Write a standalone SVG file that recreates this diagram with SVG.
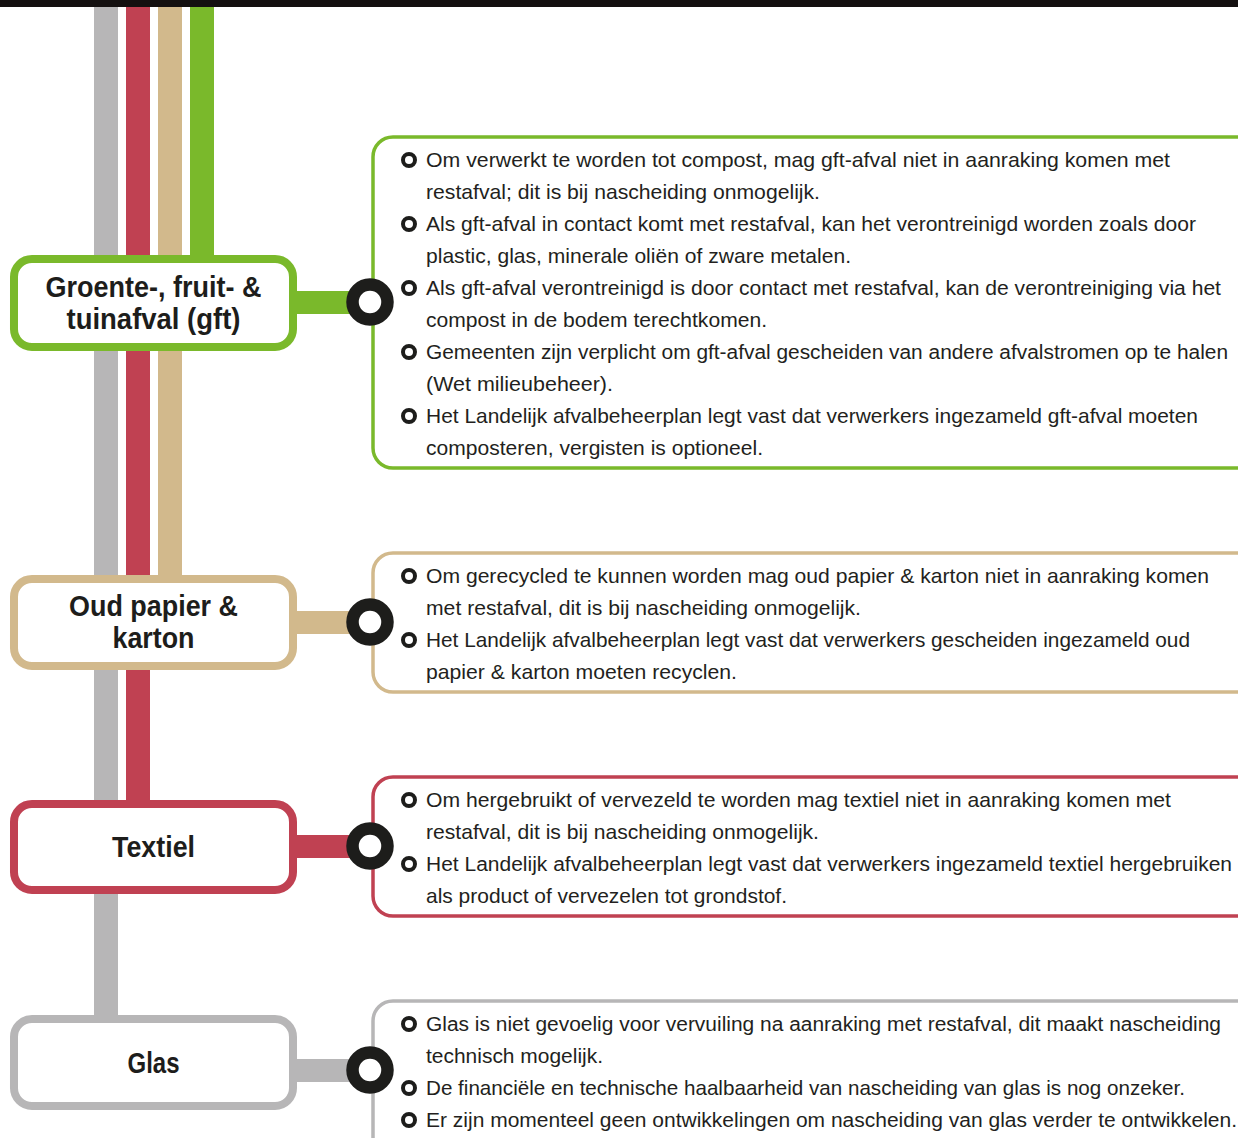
<svg xmlns="http://www.w3.org/2000/svg" width="1238" height="1138" viewBox="0 0 1238 1138">
<style>
.title{font-family:"Liberation Sans",Arial,sans-serif;font-weight:bold;font-size:29px;fill:#1d1d1b;text-anchor:middle}
.body{font-family:"Liberation Sans",Arial,sans-serif;font-size:21px;fill:#231f20}
.long{font-size:20px}
.nbox{fill:#fff;stroke-width:8}
.cbox{fill:#fff;stroke-width:3.5}
.bul{fill:#fff;stroke:#1d1d1b;stroke-width:4}
.hub{fill:#fff;stroke:#1d1d1b;stroke-width:12.5}
.green{stroke:#7ab92b}.tan{stroke:#d2b98c}.red{stroke:#c04152}.gray{stroke:#b7b6b7}
</style>
<rect x="0" y="0" width="1238" height="7" fill="#141010"/>
<g id="connectors">
<rect x="94" y="7" width="24" height="1012" fill="#b7b6b7"/>
<rect x="126" y="7" width="24" height="797" fill="#c04152"/>
<rect x="158" y="7" width="24" height="572" fill="#d2b98c"/>
<rect x="190" y="7" width="24" height="252" fill="#7ab92b"/>
<rect x="293" y="291" width="77" height="23" fill="#7ab92b"/>
<rect x="293" y="611" width="77" height="23" fill="#d2b98c"/>
<rect x="293" y="835" width="77" height="23" fill="#c04152"/>
<rect x="293" y="1059" width="77" height="23" fill="#b7b6b7"/>
</g>
<g id="node-gft">
<rect class="nbox green" x="14" y="259" width="279" height="88" rx="18"/>
<text class="title" x="153.5" y="297" textLength="216" lengthAdjust="spacingAndGlyphs">Groente-, fruit- &amp;</text>
<text class="title" x="153.5" y="329" textLength="174" lengthAdjust="spacingAndGlyphs">tuinafval (gft)</text>
</g>
<g id="node-papier">
<rect class="nbox tan" x="14" y="579" width="279" height="87" rx="18"/>
<text class="title" x="153.5" y="616" textLength="169" lengthAdjust="spacingAndGlyphs">Oud papier &amp;</text>
<text class="title" x="153.5" y="648" textLength="82" lengthAdjust="spacingAndGlyphs">karton</text>
</g>
<g id="node-textiel">
<rect class="nbox red" x="14" y="804" width="279" height="86" rx="18"/>
<text class="title" x="153.5" y="857" textLength="83" lengthAdjust="spacingAndGlyphs">Textiel</text>
</g>
<g id="node-glas">
<rect class="nbox gray" x="14" y="1019" width="279" height="87" rx="18"/>
<text class="title" x="153.5" y="1073" textLength="52" lengthAdjust="spacingAndGlyphs">Glas</text>
</g>
<g id="info-gft">
<rect class="cbox green" x="373" y="137" width="900" height="331" rx="20"/>
<circle class="hub" cx="370" cy="302" r="17.5"/>
<circle class="bul" cx="409" cy="160" r="6"/>
<circle class="bul" cx="409" cy="224" r="6"/>
<circle class="bul" cx="409" cy="288" r="6"/>
<circle class="bul" cx="409" cy="352" r="6"/>
<circle class="bul" cx="409" cy="416" r="6"/>
<text class="body" x="426" y="167" textLength="744" lengthAdjust="spacingAndGlyphs">Om verwerkt te worden tot compost, mag gft-afval niet in aanraking komen met</text>
<text class="body" x="426" y="199" textLength="394" lengthAdjust="spacingAndGlyphs">restafval; dit is bij nascheiding onmogelijk.</text>
<text class="body" x="426" y="231" textLength="770" lengthAdjust="spacingAndGlyphs">Als gft-afval in contact komt met restafval, kan het verontreinigd worden zoals door</text>
<text class="body" x="426" y="263" textLength="425" lengthAdjust="spacingAndGlyphs">plastic, glas, minerale oliën of zware metalen.</text>
<text class="body long" x="426" y="295" textLength="795" lengthAdjust="spacingAndGlyphs">Als gft-afval verontreinigd is door contact met restafval, kan de verontreiniging via het</text>
<text class="body" x="426" y="327" textLength="341" lengthAdjust="spacingAndGlyphs">compost in de bodem terechtkomen.</text>
<text class="body long" x="426" y="359" textLength="802" lengthAdjust="spacingAndGlyphs">Gemeenten zijn verplicht om gft-afval gescheiden van andere afvalstromen op te halen</text>
<text class="body" x="426" y="391" textLength="187" lengthAdjust="spacingAndGlyphs">(Wet milieubeheer).</text>
<text class="body" x="426" y="423" textLength="772" lengthAdjust="spacingAndGlyphs">Het Landelijk afvalbeheerplan legt vast dat verwerkers ingezameld gft-afval moeten</text>
<text class="body" x="426" y="455" textLength="337" lengthAdjust="spacingAndGlyphs">composteren, vergisten is optioneel.</text>
</g>
<g id="info-papier">
<rect class="cbox tan" x="373" y="553" width="900" height="139" rx="20"/>
<circle class="hub" cx="370" cy="622" r="17.5"/>
<circle class="bul" cx="409" cy="576" r="6"/>
<circle class="bul" cx="409" cy="640" r="6"/>
<text class="body" x="426" y="583" textLength="783" lengthAdjust="spacingAndGlyphs">Om gerecycled te kunnen worden mag oud papier &amp; karton niet in aanraking komen</text>
<text class="body" x="426" y="615" textLength="435" lengthAdjust="spacingAndGlyphs">met restafval, dit is bij nascheiding onmogelijk.</text>
<text class="body" x="426" y="647" textLength="764" lengthAdjust="spacingAndGlyphs">Het Landelijk afvalbeheerplan legt vast dat verwerkers gescheiden ingezameld oud</text>
<text class="body" x="426" y="679" textLength="311" lengthAdjust="spacingAndGlyphs">papier &amp; karton moeten recyclen.</text>
</g>
<g id="info-textiel">
<rect class="cbox red" x="373" y="777" width="900" height="139" rx="20"/>
<circle class="hub" cx="370" cy="846" r="17.5"/>
<circle class="bul" cx="409" cy="800" r="6"/>
<circle class="bul" cx="409" cy="864" r="6"/>
<text class="body" x="426" y="807" textLength="745" lengthAdjust="spacingAndGlyphs">Om hergebruikt of vervezeld te worden mag textiel niet in aanraking komen met</text>
<text class="body" x="426" y="839" textLength="393" lengthAdjust="spacingAndGlyphs">restafval, dit is bij nascheiding onmogelijk.</text>
<text class="body long" x="426" y="871" textLength="806" lengthAdjust="spacingAndGlyphs">Het Landelijk afvalbeheerplan legt vast dat verwerkers ingezameld textiel hergebruiken</text>
<text class="body" x="426" y="903" textLength="361" lengthAdjust="spacingAndGlyphs">als product of vervezelen tot grondstof.</text>
</g>
<g id="info-glas">
<rect class="cbox gray" x="373" y="1001" width="900" height="200" rx="20"/>
<circle class="hub" cx="370" cy="1070" r="17.5"/>
<circle class="bul" cx="409" cy="1024" r="6"/>
<circle class="bul" cx="409" cy="1088" r="6"/>
<circle class="bul" cx="409" cy="1120" r="6"/>
<text class="body long" x="426" y="1031" textLength="795" lengthAdjust="spacingAndGlyphs">Glas is niet gevoelig voor vervuiling na aanraking met restafval, dit maakt nascheiding</text>
<text class="body" x="426" y="1063" textLength="177" lengthAdjust="spacingAndGlyphs">technisch mogelijk.</text>
<text class="body" x="426" y="1095" textLength="759" lengthAdjust="spacingAndGlyphs">De financiële en technische haalbaarheid van nascheiding van glas is nog onzeker.</text>
<text class="body long" x="426" y="1127" textLength="811" lengthAdjust="spacingAndGlyphs">Er zijn momenteel geen ontwikkelingen om nascheiding van glas verder te ontwikkelen.</text>
</g>
</svg>
